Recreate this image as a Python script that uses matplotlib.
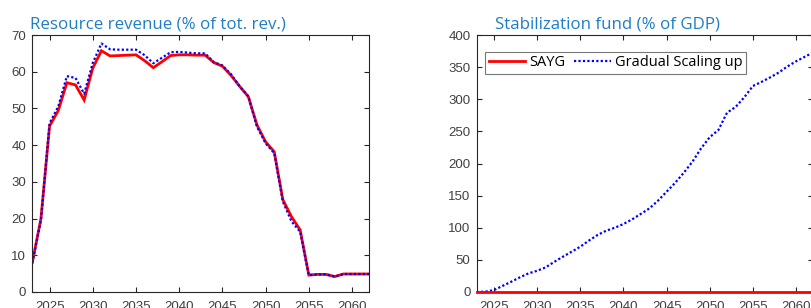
import matplotlib
matplotlib.use("Agg")
import matplotlib.pyplot as plt
import numpy as np

years = list(range(2023, 2063))

rev_sayg = [8, 20, 45.2, 49.4, 57.0, 56.4, 52.3, 61.0, 65.7, 64.3,
            64.4, 64.5, 64.6, 63.0, 61.1, 62.7, 64.4, 64.6, 64.6, 64.5,
            64.5, 62.5, 61.5, 59.0, 56.0, 53.2, 45.5, 40.9, 38.2, 25.1,
            20.5, 16.9, 4.6, 4.8, 4.8, 4.2, 4.9, 4.9, 4.9, 4.9]
rev_gradual = [8, 19.5, 46.0, 50.5, 58.8, 58.3, 54.0, 62.4, 67.7, 66.1,
               66.0, 66.0, 66.0, 64.5, 62.3, 63.8, 65.3, 65.4, 65.2, 65.0,
               65.0, 62.6, 61.7, 59.3, 56.0, 53.3, 45.0, 40.5, 37.8, 24.6,
               19.2, 16.4, 4.6, 4.8, 4.8, 4.2, 4.9, 4.9, 4.9, 4.9]

fund_sayg = [0.0] * len(years)
fund_gradual = [0, 0.5, 3, 9.5, 16, 22.8, 29, 33, 38.4, 47,
                55, 62.7, 70.5, 80, 88.7, 95.4, 100, 105.8, 113, 121.4,
                130, 142, 156, 170, 185.7, 202.8, 223.6, 241, 252, 279,
                288, 303, 320.6, 327, 334, 341.6, 351, 359, 366, 373]

title_left = "Resource revenue (% of tot. rev.)"
title_right = "Stabilization fund (% of GDP)"
legend_labels = ["SAYG", "Gradual Scaling up"]

W, H = 812, 308
fig = plt.figure(figsize=(W / 100, H / 100), dpi=100)

tick_font = "Liberation Sans"
title_font = ["Open Sans", "DejaVu Sans"]
title_color = "#1f7dc6"
spine_color = "#262626"
label_color = "#404040"


def px_axes(x0, x1, ytop, ybot):
    return [x0 / W, (H - ybot) / H, (x1 - x0) / W, (ybot - ytop) / H]


def style(ax, yticks):
    ax.set_xlim(2023, 2062)
    ax.set_xticks(range(2025, 2061, 5))
    ax.set_yticks(yticks)
    ax.set_ylim(yticks[0], yticks[-1])
    for s in ax.spines.values():
        s.set_color(spine_color)
        s.set_linewidth(0.8)
    ax.tick_params(direction="in", length=3.5, width=0.8, color=spine_color,
                   top=True, right=True, labelsize=9.5, labelcolor=label_color)
    ax.tick_params(axis="x", pad=6.5)
    ax.tick_params(axis="y", pad=4.5)
    for lab in ax.get_xticklabels() + ax.get_yticklabels():
        lab.set_fontfamily(tick_font)


axL = fig.add_axes(px_axes(32.3, 369.3, 35, 292))
axL.plot(years, rev_sayg, color="#ff0000", lw=2.0, solid_joinstyle="miter")
axL.plot(years, rev_gradual, color="#0000ff", lw=1.6, linestyle=(0, (1, 1)))
style(axL, list(range(0, 71, 10)))

axR = fig.add_axes(px_axes(476.7, 813.3, 35, 292))
l1, = axR.plot(years, fund_sayg, color="#ff0000", lw=2.0, clip_on=False, zorder=3)
l2, = axR.plot(years, fund_gradual, color="#0000ff", lw=1.6, linestyle=(0, (1, 1)))
style(axR, list(range(0, 401, 50)))

leg = axR.legend([l1, l2], legend_labels, ncol=2, loc="upper left",
                 bbox_to_anchor=((485 - 476.7) / 336.6, 1 - (51.7 - 35) / 257),
                 frameon=True, fancybox=False, borderaxespad=0,
                 handlelength=2.5, handletextpad=0.3, columnspacing=0.6,
                 borderpad=0.25, prop={"family": title_font, "size": 10.5})
leg.get_frame().set_edgecolor("#555555")
leg.get_frame().set_linewidth(0.8)

fig.text(30 / W, (H - 28.3) / H, title_left, color=title_color,
         fontsize=12.2, family=title_font, va="baseline", ha="left")
fig.text(495 / W, (H - 28.3) / H, title_right, color=title_color,
         fontsize=12.2, family=title_font, va="baseline", ha="left")

fig.savefig("out.png", dpi=100)
